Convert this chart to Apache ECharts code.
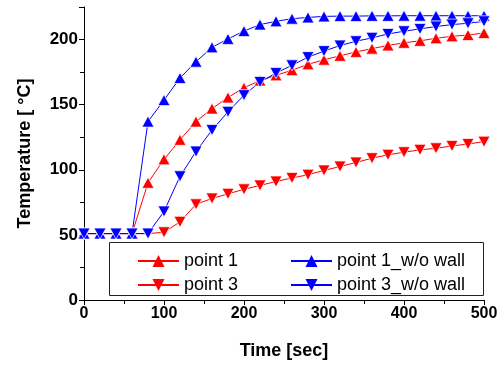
<!DOCTYPE html>
<html>
<head>
<meta charset="utf-8">
<script src="https://cdn.jsdelivr.net/npm/echarts@6/dist/echarts.min.js"></script>
<style>
  html, body { margin: 0; padding: 0; background: #fff; }
  #main { width: 504px; height: 365px; }
</style>
</head>
<body>
<div id="main"></div>
<script>
// time in sec
const time = [0, 20, 40, 60, 80, 100, 120, 140, 160, 180, 200, 220, 240, 260, 280, 300, 320, 340, 360, 380, 400, 420, 440, 460, 480, 500];
const point1 = [51, 51, 51, 51, 90, 108, 123, 137, 147, 155.5, 163, 168.5, 172.5, 176.5, 181, 184.5, 187.5, 190.5, 193, 195.5, 197.5, 199, 201, 202.5, 203.5, 205];
const point3 = [51, 51, 51, 51, 51, 52, 60, 73.5, 78, 81.5, 85, 88, 91, 93.7, 96.2, 99.5, 102.5, 105.6, 108.9, 111.5, 113.5, 115.3, 116.5, 118.3, 119.8, 121.6];
const point1NoWall = [51, 51, 51, 51, 137, 153.5, 170.5, 183, 194, 200.5, 206.5, 211.5, 214, 216, 217, 217.8, 218, 218, 218.2, 218.2, 218.3, 218.3, 218.3, 218.3, 218.3, 218.3];
const point3NoWall = [51, 51, 51, 51, 51, 68, 95, 114, 130.5, 144.5, 157.3, 167.4, 174.3, 180.2, 186.5, 191.1, 195.4, 198.7, 201.3, 204.3, 206.4, 208.2, 210, 211.5, 212.5, 214];

const xTicks = { min: 0, max: 500, interval: 100 };
const yTicks = { min: 0, max: 225, interval: 50 };

function pairs(ys) {
  return time.map((t, i) => [t, ys[i]]);
}

function makeSeries(name, ys, color, rotate) {
  return {
    name: name,
    type: 'line',
    data: pairs(ys),
    symbol: 'triangle',
    symbolSize: [12, 11],
    symbolRotate: rotate,
    showSymbol: true,
    lineStyle: { color: color, width: 1 },
    itemStyle: { color: color, borderColor: '#fff', borderWidth: 0.7 },
    emphasis: { disabled: true },
    animation: false
  };
}

const font = 'Arial, "Liberation Sans", sans-serif';

const legendCommon = {
  orient: 'vertical',
  top: 252,
  padding: 0,
  itemWidth: 41,
  itemHeight: 15,
  itemGap: 6,
  itemStyle: { borderWidth: 0 },
  textStyle: { fontFamily: font, fontSize: 18, color: '#000' },
  z: 10
};

const chart = echarts.init(document.getElementById('main'));
chart.setOption({
  backgroundColor: '#fff',
  animation: false,
  grid: { left: 84, right: 20, top: 7, bottom: 64 },
  xAxis: {
    type: 'value',
    min: xTicks.min,
    max: xTicks.max,
    interval: xTicks.interval,
    name: 'Time [sec]',
    nameLocation: 'middle',
    nameGap: 42,
    nameTextStyle: { fontFamily: font, fontSize: 18, fontWeight: 'bold', color: '#000' },
    axisLine: { lineStyle: { color: '#000', width: 1 } },
    axisTick: { inside: false, length: 5, lineStyle: { color: '#000' } },
    minorTick: { show: true, splitNumber: 2, length: 4, lineStyle: { color: '#000' } },
    axisLabel: { fontFamily: font, fontSize: 16, fontWeight: 'bold', color: '#000', margin: 6 },
    splitLine: { show: false }
  },
  yAxis: {
    type: 'value',
    min: yTicks.min,
    max: yTicks.max,
    interval: yTicks.interval,
    name: 'Temperature [ \u00B0C]',
    nameLocation: 'middle',
    nameGap: 50,
    nameTextStyle: { fontFamily: font, fontSize: 18, fontWeight: 'bold', color: '#000' },
    axisLine: { show: true, lineStyle: { color: '#000', width: 1 } },
    axisTick: { show: true, inside: false, length: 5, lineStyle: { color: '#000' } },
    minorTick: { show: true, splitNumber: 2, length: 4, lineStyle: { color: '#000' } },
    axisLabel: { fontFamily: font, fontSize: 17, fontWeight: 'bold', color: '#000', margin: 6, showMaxLabel: false },
    splitLine: { show: false }
  },
  legend: [
    Object.assign({}, legendCommon, { left: 137, data: ['point 1', 'point 3'] }),
    Object.assign({}, legendCommon, { left: 290, data: ['point 1_w/o wall', 'point 3_w/o wall'] })
  ],
  graphic: [{
    type: 'rect',
    shape: { x: 109.5, y: 242.5, width: 374, height: 53 },
    style: { fill: '#fff', stroke: '#222', lineWidth: 1 },
    z: 5
  }],
  series: [
    makeSeries('point 1', point1, '#ff0000', 0),
    makeSeries('point 3', point3, '#ff0000', 180),
    makeSeries('point 1_w/o wall', point1NoWall, '#0000ff', 0),
    makeSeries('point 3_w/o wall', point3NoWall, '#0000ff', 180)
  ]
});
</script>
</body>
</html>
